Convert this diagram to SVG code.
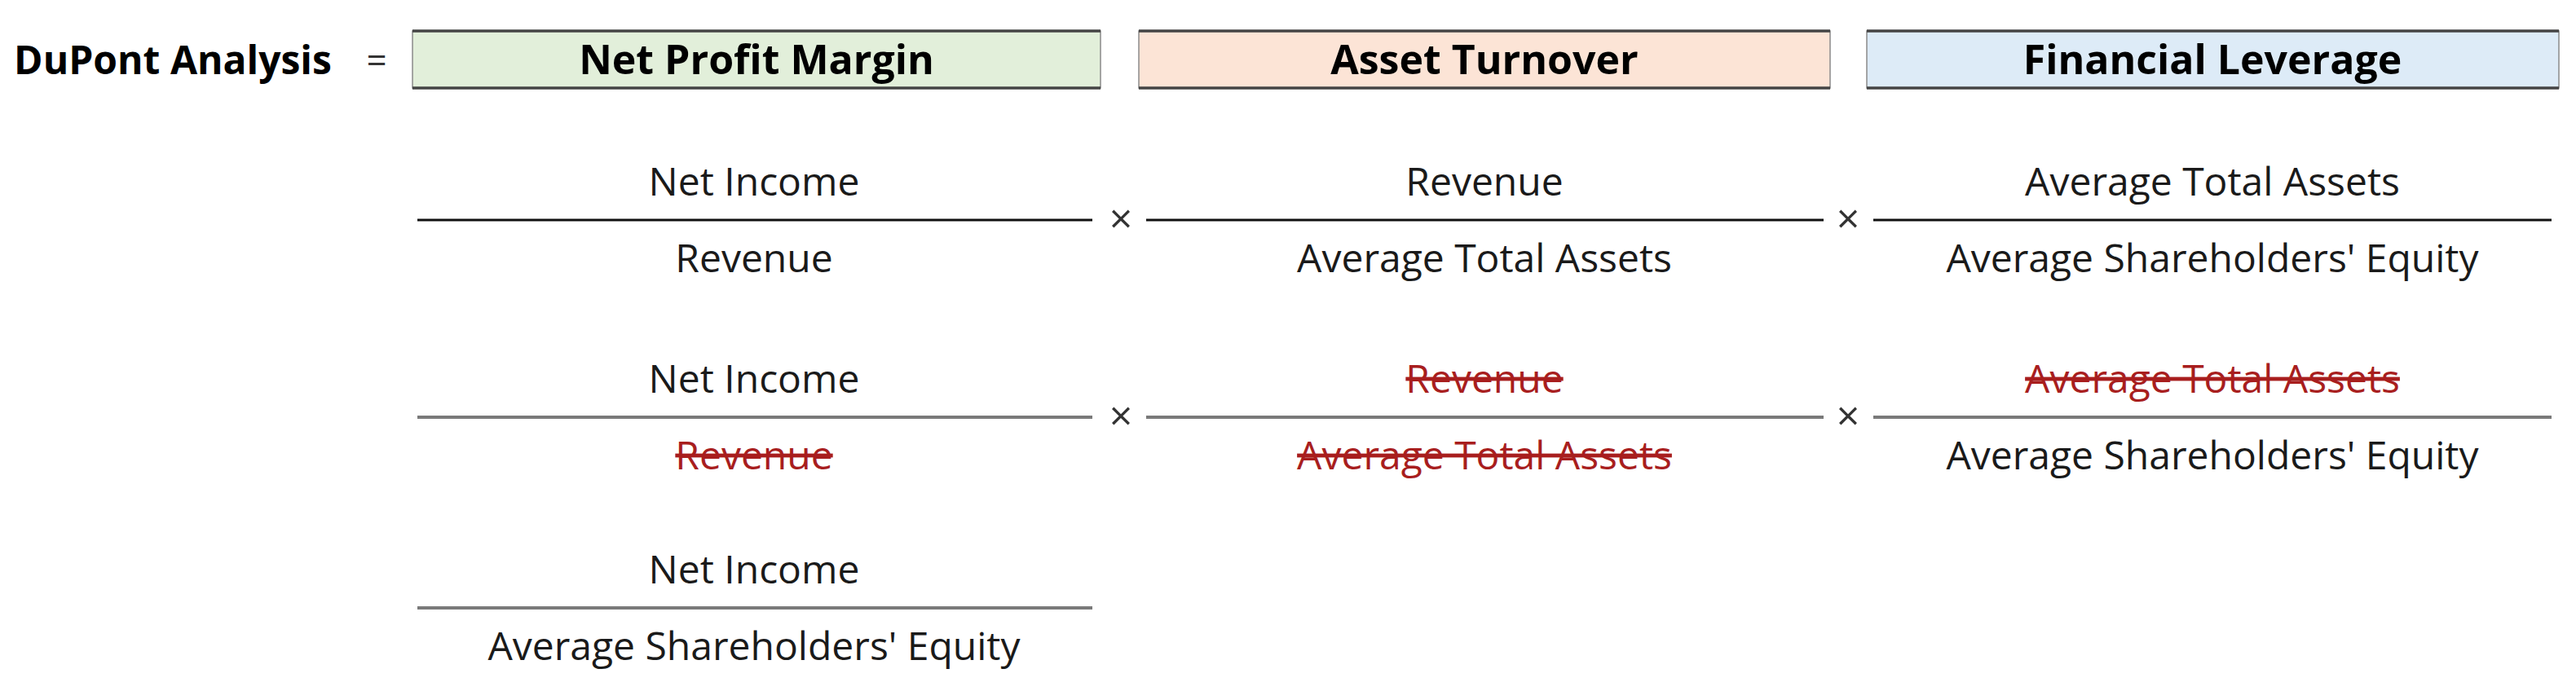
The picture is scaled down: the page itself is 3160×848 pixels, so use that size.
<svg xmlns="http://www.w3.org/2000/svg" width="3160" height="848" viewBox="0 0 3160 848">
<style>
.t{font-family:"Open Sans","Liberation Sans",sans-serif;font-size:48px;fill:#1a1a1a;text-anchor:middle}
.b{font-family:"Open Sans","Liberation Sans",sans-serif;font-size:50px;font-weight:bold;fill:#000;text-anchor:middle}
.x{font-family:"Open Sans","Liberation Sans",sans-serif;font-size:50px;fill:#333;text-anchor:middle}
.s{fill:#a81e1e;text-decoration:line-through}
.side{stroke:#8a8a8a;stroke-width:1.5}
.edge{stroke:#444;stroke-width:3.5}
.l1{stroke:#111;stroke-width:3}
.l2{stroke:#7a7a7a;stroke-width:4}
</style>
<rect width="3160" height="848" fill="#fff"/>
<g id="title">
<text class="b" x="212" y="91" style="font-size:48px">DuPont Analysis</text>
<text class="x" x="462" y="90" style="font-size:44px">=</text>
</g>
<g id="box-npm">
<rect x="506" y="38" width="844" height="70" fill="#e2efda" class="side"/>
<line x1="506" y1="38" x2="1350" y2="38" class="edge"/>
<line x1="506" y1="108" x2="1350" y2="108" class="edge"/>
<text class="b" x="928" y="91">Net Profit Margin</text>
</g>
<g id="box-at">
<rect x="1397" y="38" width="848" height="70" fill="#fce4d6" class="side"/>
<line x1="1397" y1="38" x2="2245" y2="38" class="edge"/>
<line x1="1397" y1="108" x2="2245" y2="108" class="edge"/>
<text class="b" x="1821" y="91">Asset Turnover</text>
</g>
<g id="box-fl">
<rect x="2290" y="38" width="849" height="70" fill="#ddebf7" class="side"/>
<line x1="2290" y1="38" x2="3139" y2="38" class="edge"/>
<line x1="2290" y1="108" x2="3139" y2="108" class="edge"/>
<text class="b" x="2714" y="91">Financial Leverage</text>
</g>
<g id="connectors">
<line x1="512" y1="270" x2="1340" y2="270" class="l1"/>
<line x1="1406" y1="270" x2="2237" y2="270" class="l1"/>
<line x1="2298" y1="270" x2="3130" y2="270" class="l1"/>
<line x1="512" y1="512" x2="1340" y2="512" class="l2"/>
<line x1="1406" y1="512" x2="2237" y2="512" class="l2"/>
<line x1="2298" y1="512" x2="3130" y2="512" class="l2"/>
<line x1="512" y1="746" x2="1340" y2="746" class="l2"/>
</g>
<g id="row1">
<text class="t" x="925" y="240">Net Income</text>
<text class="t" x="925" y="334">Revenue</text>
<text class="x" x="1375" y="286">×</text>
<text class="t" x="1821" y="240">Revenue</text>
<text class="t" x="1821" y="334">Average Total Assets</text>
<text class="x" x="2267" y="286">×</text>
<text class="t" x="2714" y="240">Average Total Assets</text>
<text class="t" x="2714" y="334">Average Shareholders' Equity</text>
</g>
<g id="row2">
<text class="t" x="925" y="482">Net Income</text>
<text class="t s" x="925" y="576">Revenue</text>
<text class="x" x="1375" y="528">×</text>
<text class="t s" x="1821" y="482">Revenue</text>
<text class="t s" x="1821" y="576">Average Total Assets</text>
<text class="x" x="2267" y="528">×</text>
<text class="t s" x="2714" y="482">Average Total Assets</text>
<text class="t" x="2714" y="576">Average Shareholders' Equity</text>
</g>
<g id="row3">
<text class="t" x="925" y="716">Net Income</text>
<text class="t" x="925" y="810">Average Shareholders' Equity</text>
</g>
</svg>
